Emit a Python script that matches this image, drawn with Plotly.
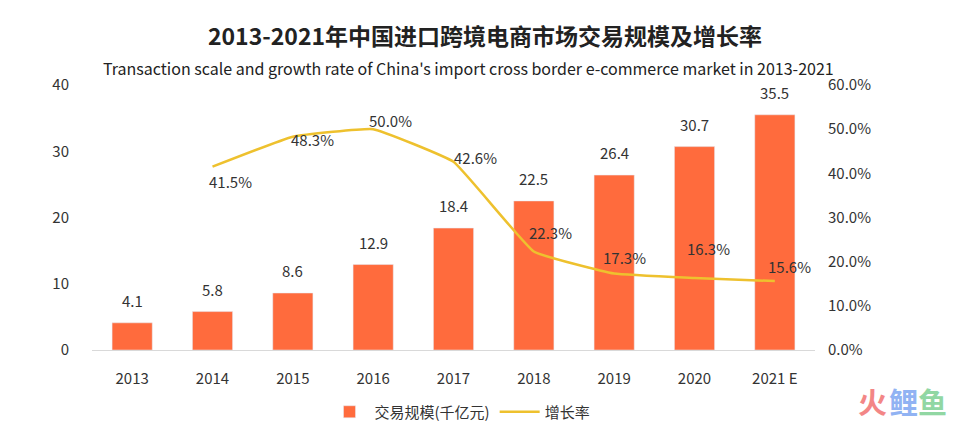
import plotly.graph_objects as go

years = ["2013", "2014", "2015", "2016", "2017", "2018", "2019", "2020", "2021 E"]
scale = [4.1, 5.8, 8.6, 12.9, 18.4, 22.5, 26.4, 30.7, 35.5]
growth_years = ["2014", "2015", "2016", "2017", "2018", "2019", "2020", "2021 E"]
growth = [0.415, 0.483, 0.500, 0.426, 0.223, 0.173, 0.163, 0.156]
growth_labels = ["41.5%", "48.3%", "50.0%", "42.6%", "22.3%", "17.3%", "16.3%", "15.6%"]

# label offsets (px) for growth labels: (xshift, yshift)
g_offsets = [(18, -15), (20, -3), (17, 9), (22, 4), (17, 19), (10, 16), (14, 30), (15, 15)]

FONT = "Noto Sans CJK SC"
BAR_C = "#FF6B3D"
LINE_C = "#EEC12E"
TXT = "#333333"

# page offset (body margin) compensation
OX, OY = 8, 8
W, H = 970 - OX, 425 - OY
# plot area in window pixels
PX0, PX1, PY0, PY1 = 92, 815, 85, 350
L, R, T, B = PX0 - OX, W - (PX1 - OX), PY0 - OY, H - (PY1 - OY)
PW, PH = PX1 - PX0, PY1 - PY0


def px_x(wx):
    return (wx - PX0) / PW


def px_y(wy):
    return (PY1 - wy) / PH


fig = go.Figure()
fig.add_trace(go.Bar(x=years, y=scale, name="交易规模(千亿元)", marker_color=BAR_C,
                     width=0.5, yaxis="y"))
fig.add_trace(go.Scatter(x=growth_years, y=growth, name="增长率", mode="lines",
                         line=dict(color=LINE_C, width=2.5, shape="spline", smoothing=0.3),
                         yaxis="y2"))

ann = []
for x, v in zip(years, scale):
    ann.append(dict(x=years.index(x), y=v, xref="x", yref="y", text=f"{v}", showarrow=False,
                    yanchor="bottom", yshift=10, font=dict(size=15, color=TXT, family=FONT)))
for (x, v, t), (dx, dy) in zip(zip(growth_years, growth, growth_labels), g_offsets):
    ann.append(dict(x=years.index(x), y=v, xref="x", yref="y2", text=t, showarrow=False,
                    xshift=dx, yshift=dy, font=dict(size=15, color=TXT, family=FONT)))

# subtitle
ann.append(dict(text="Transaction scale and growth rate of China's import cross border e-commerce market in 2013-2021",
                x=px_x(468), xref="paper", xanchor="center", y=px_y(68), yref="paper",
                yanchor="middle", showarrow=False, font=dict(size=16, color="#222222", family=FONT)))

# watermark
for wx, ch, col in [(872, "火", "#F27A7A"), (903, "鲤", "#86ABF2"), (932, "鱼", "#86D39A")]:
    ann.append(dict(x=px_x(wx), y=px_y(401), xref="paper", yref="paper",
                    text=f"<b>{ch}</b>", showarrow=False, font=dict(size=29, color=col, family=FONT),
                    xanchor="center", yanchor="middle", opacity=0.9))

fig.update_layout(
    width=W, height=H,
    margin=dict(l=L, r=R, t=T, b=B, autoexpand=False),
    paper_bgcolor="white", plot_bgcolor="white",
    font=dict(family=FONT, color=TXT, size=15),
    title=dict(text="<b>2013-2021年中国进口跨境电商市场交易规模及增长率</b>",
               x=(485 - OX) / W, xanchor="center", y=1 - (37 - OY) / H, yanchor="middle",
               font=dict(size=23, color="#222222", family=FONT)),
    showlegend=True,
    legend=dict(orientation="h", x=px_x(460), xanchor="center", y=px_y(412),
                yanchor="middle", font=dict(size=15, color=TXT, family=FONT), itemwidth=40),
    xaxis=dict(type="category", range=[-0.5, 8.5], showgrid=False, showline=True,
               linecolor="#D9D9D9", linewidth=1, ticks="", tickfont=dict(size=15, color=TXT),
               ticklabelstandoff=15),
    yaxis=dict(range=[0, 40], dtick=10, showgrid=False, zeroline=False, showline=False,
               tickfont=dict(size=15, color=TXT), ticklabelstandoff=22),
    yaxis2=dict(range=[0, 0.6], dtick=0.1, tickformat=".1%", overlaying="y", side="right",
                showgrid=False, zeroline=False, showline=False,
                tickfont=dict(size=15, color=TXT), ticklabelstandoff=12),
    annotations=ann,
)
fig.write_html("out.html")
